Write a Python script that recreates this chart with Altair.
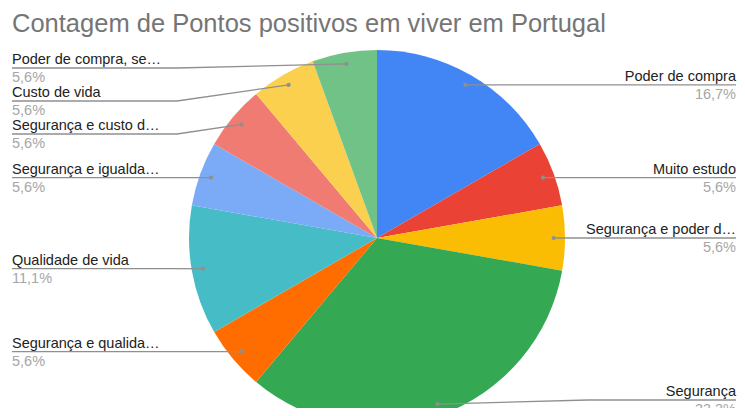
import altair as alt
import pandas as pd

# ---- data ----
labels = ["Poder de compra", "Muito estudo", "Segurança e poder d…", "Segurança",
          "Segurança e qualida…", "Qualidade de vida", "Segurança e igualda…",
          "Segurança e custo d…", "Custo de vida", "Poder de compra, se…"]
counts = [3, 1, 1, 6, 1, 2, 1, 1, 1, 1]
pct_labels = ["16,7%", "5,6%", "5,6%", "33,3%", "5,6%", "11,1%", "5,6%", "5,6%", "5,6%", "5,6%"]
colors = ["#4285F4", "#EA4335", "#FBBC04", "#34A853", "#FF6D01",
          "#46BDC6", "#7BAAF7", "#F07B72", "#FCD04F", "#71C287"]
title_text = "Contagem de Pontos positivos em viver em Portugal"

# ---- layout ----
W, H = 729, 400
CX, CY, R = 369, 230, 188
RD = 0.94 * R          # radius of the leader-line dots
GAP = 33               # min vertical spacing between stacked labels
TOP, BOTTOM = 60, 392  # label clamp
LEFT_X, RIGHT_X = 4, 728
LEFT_ELBOW = 169
FONT = "Liberation Sans"
LINE = "#8f8f8f"
FS = 14.5

df = pd.DataFrame({"label": labels, "count": counts, "pct": pct_labels,
                   "idx": list(range(len(labels)))})

base = alt.Chart(df)

pie = base.mark_arc(radius=R).encode(
    theta=alt.Theta("count:Q", stack=True),
    color=alt.Color("label:N", scale=alt.Scale(domain=labels, range=colors), legend=None),
    order=alt.Order("idx:Q"),
    x=alt.value(CX),
    y=alt.value(CY),
)

geo = (
    base.transform_joinaggregate(total="sum(count)")
    .transform_window(cum="sum(count)", sort=[alt.SortField("idx")], frame=[None, 0])
    .transform_calculate(mid="(datum.cum - datum.count / 2) / datum.total * 2 * PI")
    .transform_calculate(dx=f"{CX} + {RD} * sin(datum.mid)")
    .transform_calculate(dy=f"{CY} - {RD} * cos(datum.mid)")
    .transform_calculate(side="sin(datum.mid) >= 0 ? 'R' : 'L'")
    .transform_window(rank="row_number()", groupby=["side"], sort=[alt.SortField("dy")])
    .transform_calculate(v=f"max(datum.dy, {TOP}) - {GAP} * datum.rank")
    .transform_window(vmax="max(v)", groupby=["side"], sort=[alt.SortField("dy")], frame=[None, 0])
    .transform_calculate(ly=f"min({GAP} * datum.rank + datum.vmax, {BOTTOM})")
    .transform_calculate(x_edge=f"datum.side == 'L' ? {LEFT_X} : {RIGHT_X}")
    .transform_calculate(x_elbow=f"datum.side == 'L' ? {LEFT_ELBOW} : max(datum.dx + 20, 580)")
    .transform_calculate(y_name="datum.ly - 4")
    .transform_calculate(y_pct="datum.ly + 14")
)

seg1 = geo.mark_rule(color=LINE, strokeWidth=1.3).encode(
    x=alt.X("x_edge:Q", scale=None), x2="x_elbow:Q",
    y=alt.Y("ly:Q", scale=None), y2="ly:Q",
)
seg2 = geo.mark_rule(color=LINE, strokeWidth=1.3).encode(
    x=alt.X("x_elbow:Q", scale=None), x2="dx:Q",
    y=alt.Y("ly:Q", scale=None), y2="dy:Q",
)
dots = geo.mark_circle(size=18, color=LINE, opacity=1).encode(
    x=alt.X("dx:Q", scale=None), y=alt.Y("dy:Q", scale=None),
)

def label_layers(side, align):
    g = geo.transform_filter(f"datum.side == '{side}'")
    names = g.mark_text(align=align, baseline="alphabetic", font=FONT,
                        fontSize=FS, color="#222222").encode(
        x=alt.X("x_edge:Q", scale=None), y=alt.Y("y_name:Q", scale=None), text="label:N")
    pcts = g.mark_text(align=align, baseline="alphabetic", font=FONT,
                       fontSize=FS, color="#a6a6a6").encode(
        x=alt.X("x_edge:Q", scale=None), y=alt.Y("y_pct:Q", scale=None), text="pct:N")
    return [names, pcts]

title = alt.Chart(pd.DataFrame({"t": [title_text]})).mark_text(
    align="left", baseline="alphabetic", font=FONT, fontSize=25.5, color="#757575"
).encode(x=alt.value(4), y=alt.value(24), text="t:N")

chart = alt.layer(
    pie, seg1, seg2, dots, *label_layers("L", "left"), *label_layers("R", "right"), title
).properties(
    width=W, height=H, padding=0, autosize=alt.AutoSizeParams(type="none")
).configure_view(stroke=None)

chart.save("out.html", embed_options={"renderer": "svg", "actions": False})
